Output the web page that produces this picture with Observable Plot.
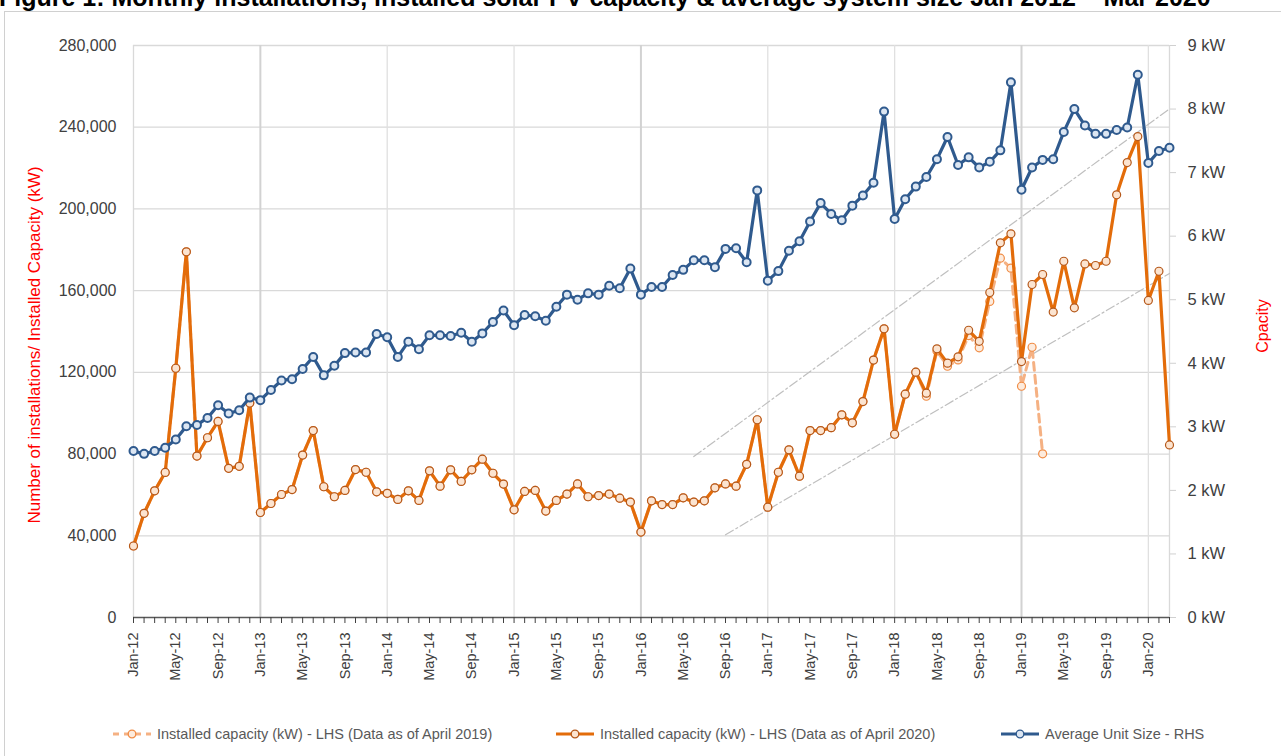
<!DOCTYPE html>
<html>
<head>
<meta charset="utf-8">
<script src="https://cdn.jsdelivr.net/npm/d3@7"></script>
<script src="https://cdn.jsdelivr.net/npm/@observablehq/plot@0.6"></script>
<style>
  body { margin: 0; background: #fff; font-family: "Liberation Sans", Arial, sans-serif; }
  #wrap { position: relative; width: 1281px; height: 756px; overflow: hidden; background: #fff; }
  #title { position: absolute; left: -1px; top: -15px; font: bold 25px "Liberation Sans", Arial, sans-serif; line-height: 25px; white-space: nowrap; color: #000; }
  #frame { position: absolute; left: 4px; top: 11px; width: 1300px; height: 800px; border: 1px solid #d0d0d0; box-sizing: border-box; }
  #chart { position: absolute; left: 0; top: 0; }
  .ytitle { position: absolute; color: #ff0000; white-space: nowrap; transform: translate(-50%, -50%) rotate(-90deg); }
  .leg { position: absolute; top: 726px; font-size: 14.5px; color: #595959; white-space: nowrap; display: flex; align-items: center; }
  .leg svg { margin-right: 5px; }
</style>
</head>
<body>
<div id="wrap">
  <div id="frame"></div>
  <div id="title">Figure 1: Monthly installations, installed solar PV capacity &amp; average system size Jan 2012 – Mar 2020</div>
  <div id="chart"></div>
  <div class="ytitle" style="left:35px; top:345px; font-size:17px;">Number of installations/ Installed Capacity (kW)</div>
  <div class="ytitle" style="left:1263px; top:326px; font-size:16px;">Cpacity</div>
  <div id="legend"></div>
</div>
<script>
// ---- Categories ----
const monthNames = ["Jan","Feb","Mar","Apr","May","Jun","Jul","Aug","Sep","Oct","Nov","Dec"];
const yearLabels = ["12","13","14","15","16","17","18","19","20"];
const months = [];
for (const yy of yearLabels) for (const m of monthNames) months.push(m + "-" + yy);
months.length = 99; // Jan-12 .. Mar-20

// ---- Installed capacity (kW) - data as of April 2020 (LHS) ----
const capacity2020 = [
  35000, 51000, 62000, 71000, 122000, 179000, 79000, 88000, 96000, 73000, 74000, 105000,
  51400, 55800, 60200, 62600, 79500, 91500, 64000, 59100, 62200, 72400, 71100, 61500,
  60800, 57800, 62000, 57300, 71800, 64300, 72300, 66600, 72300, 77500, 70600, 65300,
  52700, 61700, 62200, 52100, 57300, 60400, 65400, 59100, 59700, 60400, 58400, 56500,
  41800, 57100, 55300, 55300, 58600, 56500, 57100, 63500, 65400, 64300, 75000, 96800,
  54000, 71100, 82100, 69200, 91500, 91500, 92900, 99200, 95300, 105700, 126000, 141300,
  89700, 109300, 120100, 109800, 131500, 124500, 127600, 140600, 135200, 159100, 183400, 187800,
  125300, 163000, 167900, 149500, 174400, 151600, 173100, 172300, 174400, 206900, 222700, 235400,
  155200, 169500, 84500
];

// ---- Installed capacity (kW) - data as of April 2019 (LHS), Jan-12 .. Mar-19 ----
const capacity2019 = [
  ...capacity2020.slice(0, 75),
  108300, 130500, 123000, 126100, 138000, 132000, 154700, 175900, 171000,
  113200, 132300, 80100
];

// ---- Average unit size (kW, RHS) ----
const avgSize = [
  2.62, 2.575, 2.62, 2.67, 2.80, 3.01, 3.03, 3.14, 3.34, 3.21, 3.26, 3.46,
  3.42, 3.58, 3.73, 3.75, 3.91, 4.10, 3.81, 3.96, 4.16, 4.17, 4.17, 4.46,
  4.41, 4.10, 4.34, 4.22, 4.44, 4.44, 4.43, 4.48, 4.34, 4.47, 4.65, 4.83,
  4.60, 4.76, 4.74, 4.67, 4.89, 5.08, 5.00, 5.10, 5.08, 5.22, 5.18, 5.49,
  5.08, 5.20, 5.20, 5.39, 5.47, 5.62, 5.62, 5.51, 5.80, 5.81, 5.59, 6.72,
  5.30, 5.45, 5.77, 5.92, 6.23, 6.52, 6.35, 6.25, 6.48, 6.64, 6.84, 7.96,
  6.27, 6.58, 6.78, 6.93, 7.21, 7.56, 7.12, 7.24, 7.08, 7.17, 7.35, 8.42,
  6.73, 7.08, 7.20, 7.21, 7.64, 8.00, 7.74, 7.61, 7.61, 7.67, 7.71, 8.54,
  7.15, 7.34, 7.39
];

// ---- Trend channel (dash-dot guide lines) ----
const trendUpperMonths = ["Jun-16", "Mar-20"];
const trendUpperValues = [78800, 249000];
const trendLowerMonths = ["Sep-16", "Mar-20"];
const trendLowerValues = [40500, 168400];

// ---- Axis ticks ----
const leftTicks = [0, 40000, 80000, 120000, 160000, 200000, 240000, 280000];
const rightTicksKW = [0, 1, 2, 3, 4, 5, 6, 7, 8, 9];
const leftMax = 280000, rightMax = 9;
const yearStarts = ["Jan-13","Jan-14","Jan-15","Jan-16","Jan-17","Jan-18","Jan-19","Jan-20"];
const strongYears = ["Jan-13","Jan-16","Jan-19"];

// ---- Tables ----
const rows2020 = months.map((m, i) => ({month: m, value: capacity2020[i]}));
const rows2019 = capacity2019.map((v, i) => ({month: months[i], value: v}));
const rowsAvg = months.map((m, i) => ({month: m, kw: avgSize[i]}));
const toLeft = kw => kw * leftMax / rightMax;
const trendUpper = trendUpperMonths.map((m, i) => ({month: m, value: trendUpperValues[i]}));
const trendLower = trendLowerMonths.map((m, i) => ({month: m, value: trendLowerValues[i]}));

const ORANGE = "#E36C0A", ORANGE_DOT_STROKE = "#B5581A", ORANGE_FILL = "#FCE4D0";
const LIGHT = "#F5B183";
const BLUE = "#2F5A8E", BLUE_FILL = "#DCE6F2";

const chart = Plot.plot({
  width: 1281,
  height: 700,
  marginTop: 45,
  marginBottom: 83,
  marginLeft: 133,
  marginRight: 112,
  style: {fontFamily: '"Liberation Sans", Arial, sans-serif', fontSize: "14px", color: "#404040", background: "transparent", overflow: "visible"},
  x: {type: "point", domain: months, padding: 0, label: null},
  y: {domain: [0, leftMax], label: null},
  marks: [
    Plot.ruleY(leftTicks.slice(1), {stroke: "#d9d9d9", strokeWidth: 1.3}),
    Plot.ruleX(yearStarts, {stroke: d => strongYears.includes(d) ? "#d2d2d2" : "#e0e0e0", strokeWidth: d => strongYears.includes(d) ? 2 : 1.3}),
    Plot.ruleX([months[0], months[months.length - 1]], {stroke: "#d9d9d9", strokeWidth: 1.3}),
    Plot.line(trendUpper, {x: "month", y: "value", stroke: "#bfbfbf", strokeWidth: 1.2, strokeDasharray: "9,3,2,3"}),
    Plot.line(trendLower, {x: "month", y: "value", stroke: "#bfbfbf", strokeWidth: 1.2, strokeDasharray: "9,3,2,3"}),
    Plot.line(rows2019, {x: "month", y: "value", stroke: LIGHT, strokeWidth: 3, strokeDasharray: "8,5"}),
    Plot.dot(rows2019, {x: "month", y: "value", r: 4, fill: "#FDEBDD", stroke: "#F08C45", strokeWidth: 1.2}),
    Plot.line(rows2020, {x: "month", y: "value", stroke: ORANGE, strokeWidth: 3.2}),
    Plot.dot(rows2020, {x: "month", y: "value", r: 4, fill: ORANGE_FILL, stroke: ORANGE_DOT_STROKE, strokeWidth: 1.2}),
    Plot.line(rowsAvg, {x: "month", y: d => toLeft(d.kw), stroke: BLUE, strokeWidth: 3.2}),
    Plot.dot(rowsAvg, {x: "month", y: d => toLeft(d.kw), r: 4, fill: BLUE_FILL, stroke: BLUE, strokeWidth: 2}),
    Plot.ruleY([0], {stroke: "#595959", strokeWidth: 1.3}),
    Plot.axisX({
      ticks: months,
      tickFormat: d => months.indexOf(d) % 4 === 0 ? d : "",
      tickRotate: -90,
      tickSize: 6,
      tickPadding: 9,
      stroke: "#404040",
      fill: "#404040",
      fontSize: 14.5,
      label: null
    }),
    Plot.axisY({
      anchor: "left",
      ticks: leftTicks,
      tickFormat: d3.format(","),
      tickSize: 0,
      tickPadding: 17,
      fill: "#404040",
      fontSize: 16,
      label: null
    }),
    Plot.axisY({
      anchor: "right",
      ticks: rightTicksKW.map(toLeft),
      tickFormat: d => Math.round(d * rightMax / leftMax) + " kW",
      tickSize: 6,
      tickPadding: 12,
      stroke: "#d0d0d0",
      fill: "#404040",
      fontSize: 16.5,
      label: null
    })
  ]
});
document.getElementById("chart").appendChild(chart);

// ---- Legend (HTML) ----
const legendItems = [
  {label: "Installed capacity (kW) - LHS (Data as of April 2019)", left: 112, color: LIGHT, dash: "6,5", dotStroke: "#F08C45", dotFill: "#FDEBDD"},
  {label: "Installed capacity (kW) - LHS (Data as of April 2020)", left: 555, color: ORANGE, dash: null, dotStroke: ORANGE_DOT_STROKE, dotFill: ORANGE_FILL},
  {label: "Average Unit Size - RHS", left: 1000, color: BLUE, dash: null, dotStroke: BLUE, dotFill: BLUE_FILL}
];
const legend = document.getElementById("legend");
for (const it of legendItems) {
  const div = document.createElement("div");
  div.className = "leg";
  div.style.left = it.left + "px";
  div.innerHTML = `<svg width="40" height="14"><line x1="1" y1="7" x2="39" y2="7" stroke="${it.color}" stroke-width="3" ${it.dash ? `stroke-dasharray="${it.dash}"` : ""}/><circle cx="20" cy="7" r="3.8" fill="${it.dotFill}" stroke="${it.dotStroke}" stroke-width="1.3"/></svg><span>${it.label}</span>`;
  legend.appendChild(div);
}
</script>
</body>
</html>
